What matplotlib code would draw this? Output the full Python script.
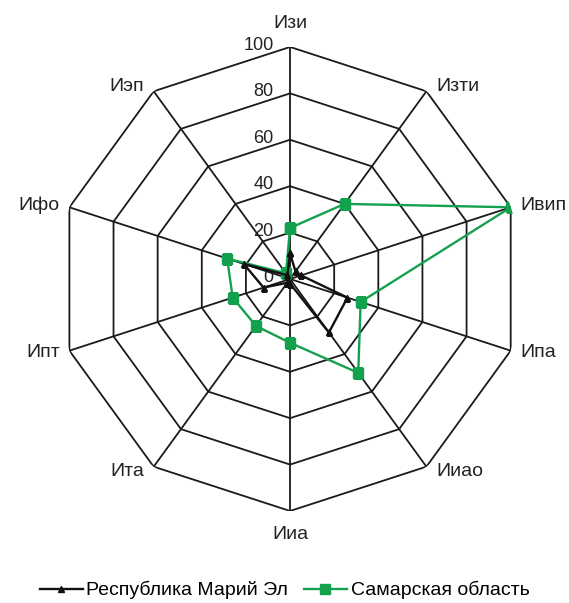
import numpy as np
import matplotlib.pyplot as plt

plt.rcParams['font.family'] = ['Liberation Sans', 'DejaVu Sans']

# indices, clockwise from the top
categories = ['Изи', 'Изти', 'Ивип', 'Ипа', 'Ииао', 'Ииа', 'Ита', 'Ипт', 'Ифо', 'Иэп']
mari_el = [11, 4, 5, 26, 28.5, 2, 2, 12, 21, 2]
samara = [22, 40, 100, 32, 50, 27.5, 25, 26, 28.5, 3]
levels = [20, 40, 60, 80, 100]
level_labels = ['0', '20', '40', '60', '80', '100']

GREEN = '#14a14e'
n = len(categories)
theta = np.arange(n) * 2 * np.pi / n
closed = np.append(theta, theta[0])

fig = plt.figure(figsize=(5.69, 6.03), dpi=100)
ax = fig.add_axes([0.102, 0.1526, 0.8155, 0.7695], projection='polar')
ax.set_theta_zero_location('N')
ax.set_theta_direction(-1)
ax.set_ylim(0, 100)
ax.grid(False)
ax.spines['polar'].set_visible(False)
ax.set_xticks([])
ax.set_yticks([])

# decagon rings and spokes
for lv in levels:
    ax.plot(closed, [lv] * (n + 1), color='#1a1a1a', lw=1.3, zorder=1)
for t in theta:
    ax.plot([t, t], [0, 100], color='#1a1a1a', lw=1.3, zorder=1)

# scale labels along the top spoke
for i, lab in enumerate(level_labels):
    ax.annotate(lab, xy=(0, i * 20), xytext=(-12, 1), textcoords='offset points',
                ha='right', va='center', fontsize=13, color='#222222')

# category labels round the outside
for t, name in zip(theta, categories):
    s, c = np.sin(t), np.cos(t)
    if abs(s) < 0.1:
        dx, dy, ha = 0, 17 * np.sign(c), 'center'
    else:
        dx, dy, ha = 7 * np.sign(s), 4 * c, ('left' if s > 0 else 'right')
    ax.annotate(name, xy=(t, 100), xytext=(dx, dy), textcoords='offset points',
                ha=ha, va='center', fontsize=14, color='#222222',
                annotation_clip=False)

ax.plot(closed, samara + samara[:1], color=GREEN, lw=1.7, marker='s', ms=7,
        label='Самарская область', zorder=3)
ax.plot(closed, mari_el + mari_el[:1], color='#111111', lw=1.7, marker='^', ms=5,
        label='Республика Марий Эл', zorder=4)

handles, labels = ax.get_legend_handles_labels()
fig.legend(handles[::-1], labels[::-1], loc='center', ncol=2,
           bbox_to_anchor=(0.5, 0.021), frameon=False, fontsize=14,
           handlelength=2.2, handletextpad=0.2, columnspacing=0.8,
           borderpad=0)

fig.savefig('out.png', dpi=100)
